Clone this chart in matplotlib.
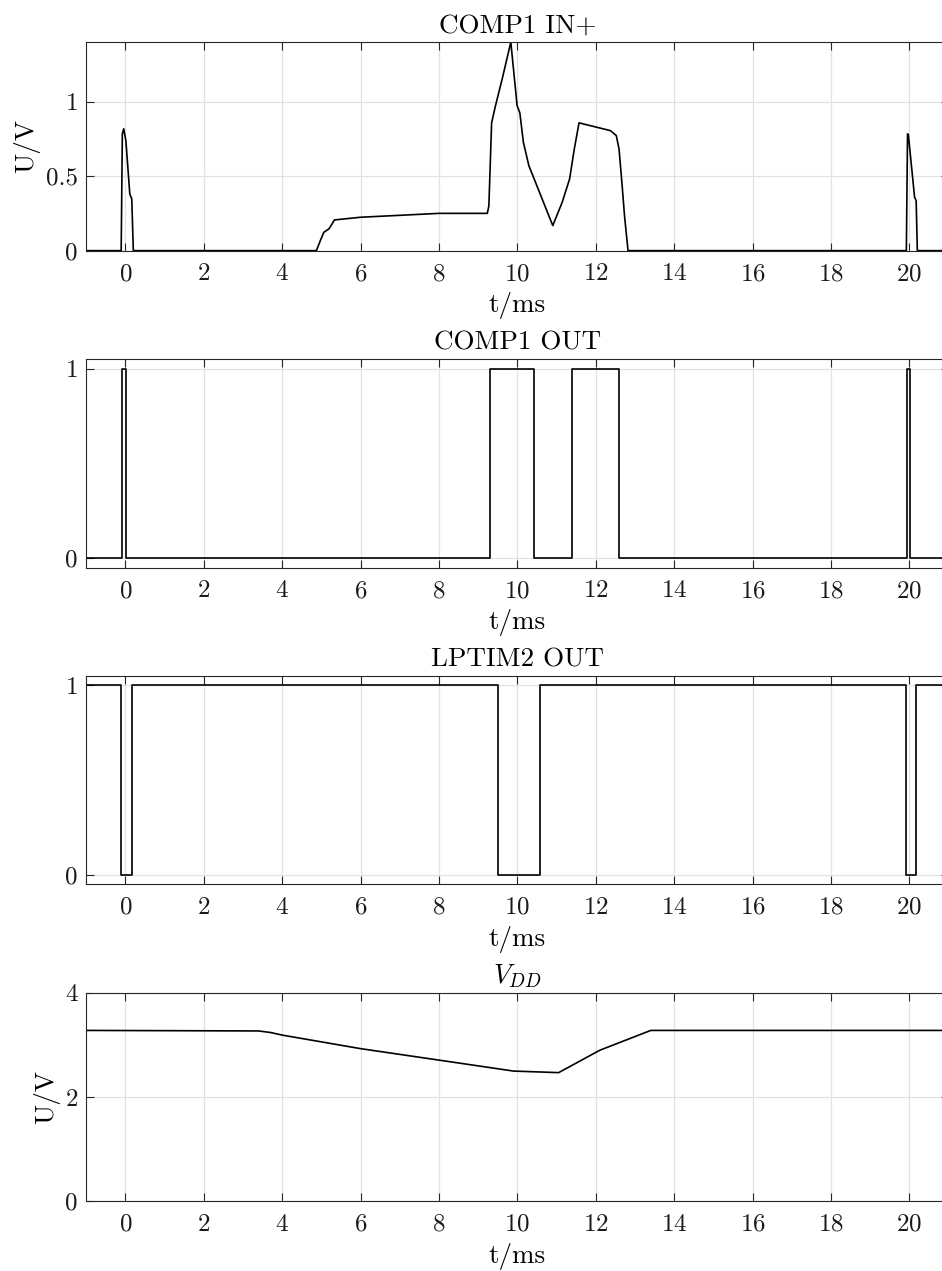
import numpy as np
import matplotlib
matplotlib.use("Agg")
import matplotlib.pyplot as plt

plt.rcParams["font.family"] = "cmr10"
plt.rcParams["mathtext.fontset"] = "cm"
plt.rcParams["axes.formatter.use_mathtext"] = True
plt.rcParams["axes.unicode_minus"] = False

# COMP1 IN+ trace (ms, V)
in_t = [-1, -0.11, -0.08, -0.045, 0.01, 0.11, 0.16, 0.20,
        4.87, 4.97, 5.06, 5.19, 5.27, 5.33, 6.0, 8.0, 9.23, 9.27, 9.34,
        9.44, 9.61, 9.83, 9.99, 10.06, 10.15, 10.29, 10.90, 11.14, 11.33,
        11.45, 11.57, 12.37, 12.52, 12.59, 12.67, 12.73, 12.82,
        19.92, 19.95, 19.97, 20.13, 20.17, 20.20, 21]
in_v = [0, 0, 0.785, 0.817, 0.738, 0.38, 0.347, 0,
        0, 0.067, 0.123, 0.146, 0.179, 0.206, 0.224, 0.25, 0.25, 0.30, 0.857,
        0.973, 1.152, 1.398, 0.973, 0.924, 0.727, 0.570, 0.168, 0.324, 0.481,
        0.683, 0.857, 0.805, 0.772, 0.683, 0.436, 0.235, 0,
        0, 0.783, 0.78, 0.358, 0.336, 0, 0]

# comparator output edges
comp_t = [-1, -0.08, 0.01, 9.31, 10.42, 11.39, 12.60, 19.93, 20.01, 21]
comp_v = [0, 1, 0, 1, 0, 1, 0, 1, 0, 0]

# LPTIM2 output edges
lptim_t = [-1, -0.11, 0.16, 9.51, 10.58, 19.90, 20.16, 21]
lptim_v = [1, 0, 1, 0, 1, 0, 1, 1]

# supply voltage
vdd_t = [-1, 3.4, 3.7, 4.0, 6.0, 8.0, 9.9, 11.05, 12.1, 13.4, 21]
vdd_v = [3.28, 3.27, 3.24, 3.19, 2.93, 2.71, 2.50, 2.47, 2.90, 3.28, 3.28]

titles = ["COMP1 IN+", "COMP1 OUT", "LPTIM2 OUT", r"$V_{DD}$"]
yticks = [[0, 0.5, 1], [0, 1], [0, 1], [0, 2, 4]]
ylims = [(0, max(in_v)), (-0.05, 1.05), (-0.05, 1.05), (0, 4)]
ylabels = ["U/V", None, None, "U/V"]
xticks = np.arange(0, 21, 2)

fig = plt.figure(figsize=(9.42, 12.71), dpi=100)
bottoms = [0.8028, 0.5533, 0.3042, 0.0548]
axes = [fig.add_axes([0.0916, b, 0.9155, 0.164]) for b in bottoms]

axes[0].plot(in_t, in_v, color="k", lw=1.2)
axes[1].step(comp_t, comp_v, where="post", color="k", lw=1.2)
axes[2].step(lptim_t, lptim_v, where="post", color="k", lw=1.2)
axes[3].plot(vdd_t, vdd_v, color="k", lw=1.2)

for i, ax in enumerate(axes):
    ax.set_xlim(-1, 21)
    ax.set_ylim(*ylims[i])
    ax.set_xticks(xticks)
    ax.set_yticks(yticks[i])
    ax.set_yticklabels([f"{v:g}" for v in yticks[i]])
    ax.grid(True, color="#e2e2e2", lw=0.9)
    ax.set_axisbelow(True)
    for s in ax.spines.values():
        s.set_color("#262626")
        s.set_linewidth(0.8)
    ax.tick_params(direction="in", top=True, right=True, length=6,
                   width=0.8, color="#262626", labelsize=18,
                   labelcolor="#1a1a1a")
    ax.tick_params(axis="x", pad=9)
    ax.tick_params(axis="y", pad=6)
    ax.set_xlabel("t/ms", fontsize=19.5, labelpad=5)
    if ylabels[i]:
        ax.set_ylabel(ylabels[i], fontsize=19.5, labelpad=4)
    ax.set_title(titles[i], fontsize=19.5, pad=7)

fig.savefig("out.png", dpi=100)
